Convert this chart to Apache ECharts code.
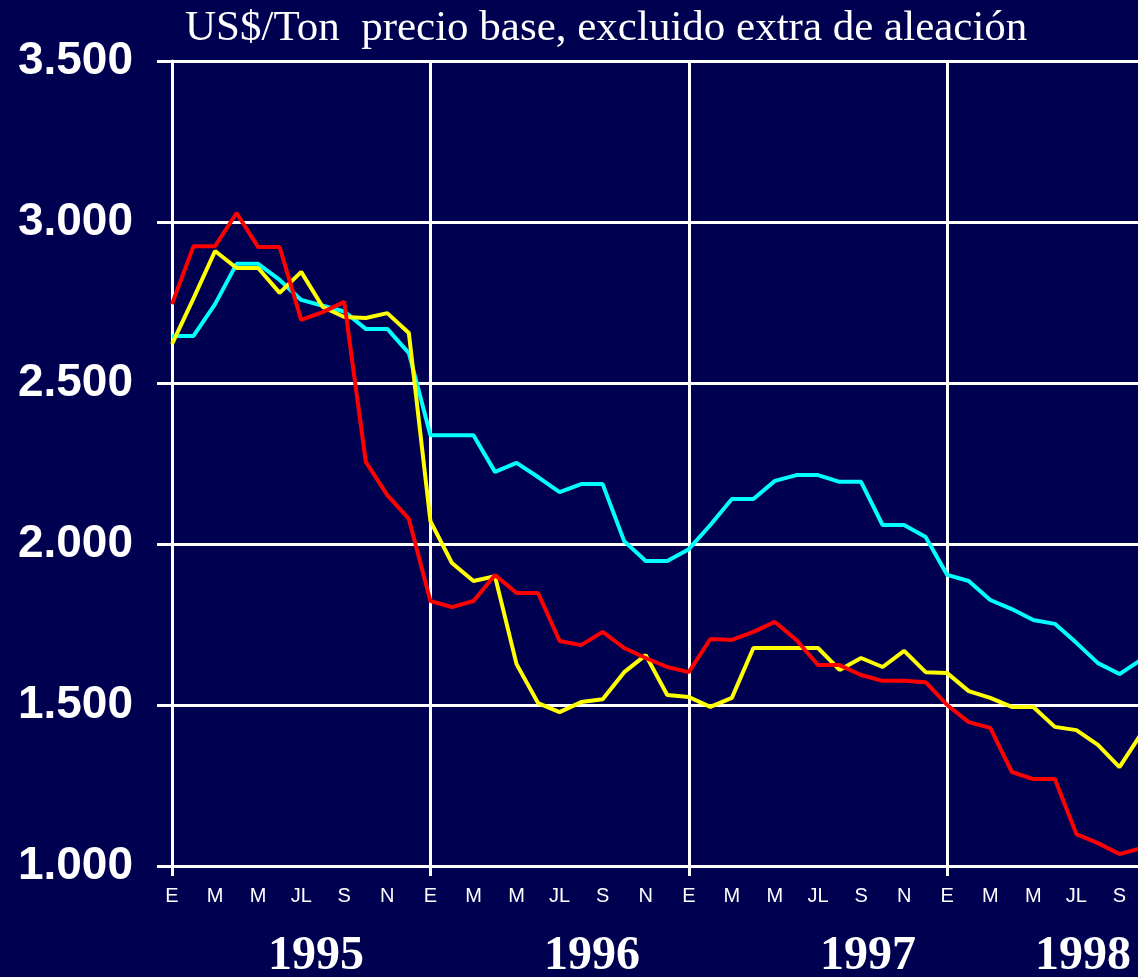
<!DOCTYPE html>
<html>
<head>
<meta charset="utf-8">
<script src="https://cdn.jsdelivr.net/npm/echarts@6/dist/echarts.min.js"></script>
<style>
html,body{margin:0;padding:0;overflow:hidden;background:#000050;}
#chart{width:1141px;height:977px;}
</style>
</head>
<body>
<div id="chart"></div>
<script>
// Months Jan 1995 .. Oct 1998
const monthLetters = ["E","F","M","A","M","J","JL","A","S","O","N","D"];
const years = ["1995","1996","1997","1998"];
const categories = [];
for (let y = 0; y < 4; y++) for (let m = 0; m < 12; m++) {
  if (categories.length < 46) categories.push(monthLetters[m]);
}
const yTicks = [1000, 1500, 2000, 2500, 3000, 3500];

const cyanSeries = [2646,2646,2745,2870,2870,2820,2758,2740,2722,2668,2668,2593,
  2338,2338,2338,2224,2252,2208,2161,2186,2186,2009,1947,1947,
  1984,2059,2140,2140,2196,2214,2214,2193,2193,2059,2059,2022,
  1904,1885,1826,1798,1764,1752,1693,1630,1596,1640];
const yellowSeries = [2621,2763,2910,2857,2857,2780,2845,2736,2705,2702,2717,2655,
  2071,1941,1885,1900,1627,1506,1478,1509,1518,1602,1655,1531,
  1525,1494,1522,1677,1677,1677,1677,1609,1646,1618,1668,1602,
  1599,1543,1522,1494,1494,1432,1422,1376,1307,1410];
const redSeries = [2745,2925,2925,3028,2922,2922,2696,2720,2752,2255,2152,2078,
  1823,1804,1823,1904,1848,1848,1699,1686,1727,1677,1646,1618,
  1602,1705,1702,1727,1758,1702,1624,1624,1593,1575,1575,1571,
  1500,1447,1429,1292,1270,1270,1099,1071,1037,1055];

const chart = echarts.init(document.getElementById('chart'), null, {renderer:'canvas'});
const yearCenters = [316, 592, 868, 1083];

const option = {
  backgroundColor: '#000050',
  animation: false,
  title: {
    text: 'US$/Ton  precio base, excluido extra de aleación',
    left: 180, top: 2,
    textStyle: {color:'#ffffff', fontFamily:'"Liberation Serif","Times New Roman",serif', fontWeight:'normal', fontSize:43}
  },
  grid: {left:172, right:0, top:61, bottom:111, containLabel:false},
  xAxis: {
    type:'category', data: categories, boundaryGap:false,
    axisLine:{show:true, lineStyle:{color:'#ffffff', width:3}},
    axisTick:{show:true, length:10, interval:(i)=>i%12===0, lineStyle:{color:'#ffffff', width:3}},
    splitLine:{show:true, interval:(i)=>i%12===0, lineStyle:{color:'#ffffff', width:3}},
    axisLabel:{interval:1, color:'#ffffff', fontFamily:'"Liberation Sans",Arial,sans-serif', fontSize:20, margin:20}
  },
  yAxis: {
    type:'value', min:yTicks[0], max:yTicks[yTicks.length-1], interval:500,
    axisLine:{show:true, lineStyle:{color:'#ffffff', width:3}},
    axisTick:{show:true, length:15, lineStyle:{color:'#ffffff', width:3}},
    splitLine:{show:true, lineStyle:{color:'#ffffff', width:3}},
    axisLabel:{color:'#ffffff', fontFamily:'"Liberation Sans",Arial,sans-serif', fontWeight:'bold', fontSize:46, margin:39,
      formatter:(v)=>String(v).replace(/\B(?=(\d{3})+(?!\d))/g,'.')}
  },
  graphic: years.map((t,i)=>({
    type:'text', left: yearCenters[i]-48, top: 933,
    style:{text:t, fill:'#ffffff', font:'bold 48px "Liberation Serif","Times New Roman",serif'}
  })),
  series: [
    {type:'line', data:cyanSeries, symbol:'none', lineStyle:{color:'#00ffff', width:4}, z:3},
    {type:'line', data:yellowSeries, symbol:'none', lineStyle:{color:'#ffff00', width:4}, z:4},
    {type:'line', data:redSeries, symbol:'none', lineStyle:{color:'#ff0000', width:4}, z:5}
  ]
};
chart.setOption(option);
</script>
</body>
</html>
